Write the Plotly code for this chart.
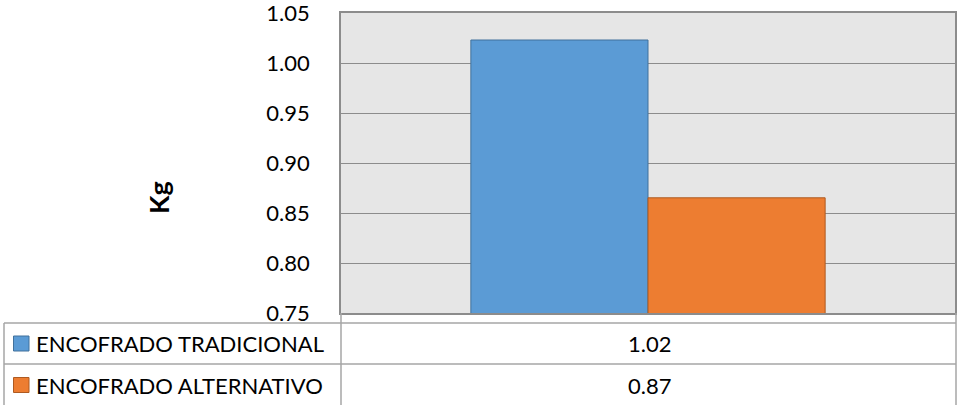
import plotly.graph_objects as go

# Data
series_names = ["ENCOFRADO TRADICIONAL", "ENCOFRADO ALTERNATIVO"]
series_values = [1.023, 0.8652]
series_colors = ["#5B9BD5", "#ED7D31"]
series_edges = ["#41719C", "#AE5A21"]
category = [""]
y_title = "Kg"
y_ticks = [0.75, 0.80, 0.85, 0.90, 0.95, 1.00, 1.05]

W, H = 957, 405
L, R, T, B = 341, 955, 13, 313
FONT = "Lato, Open Sans, sans-serif"
GRID = "#8C8C8C"
TABLE_LINE = "#A6A6A6"
TXT = 22


def px_x(x):
    return (x - L) / (R - L)


def px_y(y):
    return (B - y) / (B - T)


fig = go.Figure()
for name, val, col, edge in zip(series_names, series_values, series_colors, series_edges):
    fig.add_trace(go.Bar(
        x=category, y=[val], name=name,
        marker=dict(color=col, line=dict(color=edge, width=1)),
        showlegend=False, hoverinfo="skip",
    ))

shapes = []
annotations = []

# data table grid
def hline(y, x0, x1):
    shapes.append(dict(type="line", xref="paper", yref="paper",
                       x0=px_x(x0), x1=px_x(x1), y0=px_y(y), y1=px_y(y),
                       line=dict(color=TABLE_LINE, width=1.5)))


def vline(x, y0, y1):
    shapes.append(dict(type="line", xref="paper", yref="paper",
                       x0=px_x(x), x1=px_x(x), y0=px_y(y0), y1=px_y(y1),
                       line=dict(color=TABLE_LINE, width=1.5)))


row_tops = [323, 364]
row_bottom = 406
hline(323, 4, 956)
hline(364, 4, 956)
vline(4, 323, 406)
vline(341, 313, 406)
vline(956, 313, 406)

for i, (name, val, col, edge) in enumerate(zip(series_names, series_values, series_colors, series_edges)):
    top = row_tops[i]
    bot = row_tops[i + 1] if i + 1 < len(row_tops) else row_bottom
    cy = (top + bot) / 2
    # legend key
    shapes.append(dict(type="rect", xref="paper", yref="paper",
                       x0=px_x(13.5), x1=px_x(29), y0=px_y(cy - 7.5), y1=px_y(cy + 7.5),
                       fillcolor=col, line=dict(color=edge, width=1)))
    annotations.append(dict(xref="paper", yref="paper", x=px_x(34), y=px_y(cy),
                            xanchor="left", yanchor="middle", text=name, showarrow=False,
                            font=dict(family=FONT, size=TXT, color="#000000")))
    annotations.append(dict(xref="paper", yref="paper", x=px_x(649), y=px_y(cy),
                            xanchor="center", yanchor="middle", text=f"{val:.2f}", showarrow=False,
                            font=dict(family=FONT, size=TXT, color="#000000")))

# axis title
annotations.append(dict(xref="paper", yref="paper", x=px_x(158), y=px_y(198),
                        xanchor="center", yanchor="middle", text=f"<b>{y_title}</b>",
                        textangle=-90, showarrow=False,
                        font=dict(family=FONT, size=27, color="#000000")))

fig.update_layout(
    width=W, height=H,
    margin=dict(l=L, r=W - R, t=T, b=H - B, autoexpand=False),
    paper_bgcolor="white", plot_bgcolor="#E6E6E6",
    barmode="group", bargap=0.423, bargroupgap=0,
    font=dict(family=FONT, size=TXT, color="#000000"),
    shapes=shapes, annotations=annotations,
    xaxis=dict(showticklabels=False, showgrid=False, zeroline=False,
               showline=True, linecolor=GRID, linewidth=1.5, mirror=True, ticks=""),
    yaxis=dict(range=[0.75, 1.05], tickvals=y_ticks, tickformat=".2f",
               showgrid=True, gridcolor=GRID, gridwidth=1, zeroline=False,
               showline=True, linecolor=GRID, linewidth=1.5, mirror=True,
               ticks="", ticklabelstandoff=25, ticklabeloverflow="allow",
               tickfont=dict(family=FONT, size=TXT, color="#000000")),
)

fig.write_html("out.html")
